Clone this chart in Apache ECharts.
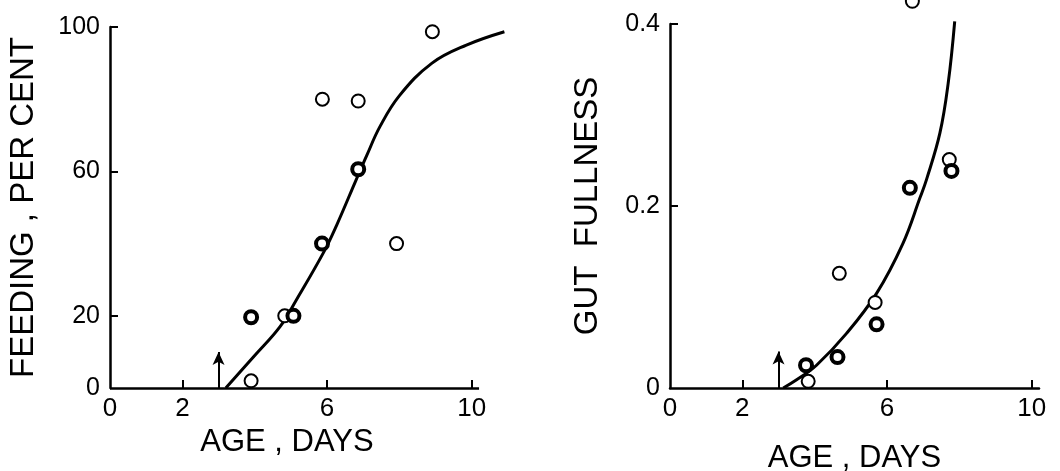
<!DOCTYPE html>
<html>
<head>
<meta charset="utf-8">
<script src="https://cdn.jsdelivr.net/npm/echarts@6/dist/echarts.min.js"></script>
<style>
  html, body { margin: 0; padding: 0; background: #fff; }
  #chart { width: 1060px; height: 471px; }
</style>
</head>
<body>
<div id="chart"></div>
<script>
// left panel: feeding, per cent
var feedOpen = [[3.9, 2], [4.83, 20], [5.87, 80], [6.86, 79.5], [7.92, 40], [8.91, 98.7]];
var feedFilled = [[3.9, 19.6], [5.07, 20], [5.86, 40], [6.86, 60.6]];
var feedCurve = [[3.2, 0], [4.0, 9], [4.7, 17], [5.15, 24.4], [5.9, 37.5], [6.26, 45], [6.8, 57.6],
    [7.1, 64.5], [7.46, 72.4], [8.0, 81], [8.9, 90], [9.85, 95], [10.9, 98.7]];
var feedArrow = [[3, 0], [3, 10]];

// right panel: gut fullness
var gutOpen = [[3.82, 0.0074], [4.68, 0.126], [5.67, 0.094], [6.7, 0.425], [7.72, 0.251]];
var gutFilled = [[3.76, 0.025], [4.63, 0.034], [5.71, 0.070], [6.63, 0.22], [7.78, 0.2385]];
var gutCurve = [[3.13, 0], [3.5, 0.009], [4.05, 0.025], [4.88, 0.06], [5.71, 0.104], [6.44, 0.159],
    [6.91, 0.209], [7.09, 0.229], [7.46, 0.28], [7.69, 0.335], [7.87, 0.403]];
var gutArrow = [[3, 0], [3, 0.04]];

var xTicks = [2, 6, 10];
var xLabels = [0, 2, 6, 10];
var feedTicks = [20, 60, 100];
var feedLabels = [0, 20, 60, 100];
var gutTicks = [0.2, 0.4];
var gutLabels = [0, 0.2, 0.4];
var xAxisEnd = 10.2;   // where the drawn x axis stops

var font = 'Liberation Sans';
var ink = '#000';

// the left curve runs past the end of the x axis, so that grid goes to 11
// and the axis line itself is drawn as a mark line up to xAxisEnd
function xAxisOf(idx, gap, max, showLine) {
    return {
        type: 'value', gridIndex: idx, min: 0, max: max,
        name: 'AGE , DAYS', nameLocation: 'middle', nameGap: gap,
        nameTextStyle: {color: ink, fontSize: 31, fontFamily: font},
        axisLine: {show: showLine, lineStyle: {color: ink, width: 2.5}},
        axisTick: {show: true, inside: true, length: 8, customValues: xTicks, lineStyle: {color: ink, width: 2}},
        axisLabel: {show: true, customValues: xLabels, color: ink, fontSize: 26, fontFamily: font, margin: 8},
        splitLine: {show: false}
    };
}

function yAxisOf(idx, max, name, gap, ticks, labels) {
    return {
        type: 'value', gridIndex: idx, min: 0, max: max,
        name: name, nameLocation: 'middle', nameGap: gap,
        nameTextStyle: {color: ink, fontSize: 33, fontFamily: font},
        axisLine: {show: true, lineStyle: {color: ink, width: 2.5}},
        axisTick: {show: true, inside: true, length: 8, customValues: ticks, lineStyle: {color: ink, width: 2}},
        axisLabel: {customValues: labels, color: ink, fontSize: 25, fontFamily: font, margin: 10},
        splitLine: {show: false}
    };
}

function arrowLine(xi, pts) {
    return {
        type: 'line', xAxisIndex: xi, yAxisIndex: xi, data: [], silent: true,
        markLine: {
            silent: true, symbol: ['none', 'arrow'], symbolSize: [9, 13],
            label: {show: false},
            lineStyle: {color: ink, width: 2, type: 'solid'},
            data: [[{coord: pts[0]}, {coord: pts[1]}]]
        }
    };
}

function baseLine(xi) {
    return {
        type: 'line', xAxisIndex: xi, yAxisIndex: xi, data: [], silent: true,
        markLine: {
            silent: true, symbol: 'none', label: {show: false},
            lineStyle: {color: ink, width: 2.5, type: 'solid'},
            data: [[{coord: [0, 0]}, {coord: [xAxisEnd, 0]}]]
        }
    };
}

function curve(xi, pts) {
    return {
        type: 'line', xAxisIndex: xi, yAxisIndex: xi, data: pts, smooth: 0.4,
        showSymbol: false, clip: false, silent: true,
        lineStyle: {color: ink, width: 3}, z: 2
    };
}

function dots(xi, pts, size, border) {
    return {
        type: 'scatter', xAxisIndex: xi, yAxisIndex: xi, data: pts, symbol: 'circle',
        symbolSize: size, clip: false, silent: true, z: 5,
        itemStyle: {color: '#fff', borderColor: ink, borderWidth: border, opacity: 1}
    };
}

var leftX = xAxisOf(0, 36, 11, false);
leftX.nameTextStyle.padding = [0, 44, 0, 0];   // centre the name under the drawn axis
var rightX = xAxisOf(1, 55, xAxisEnd, true);

var chart = echarts.init(document.getElementById('chart'));
chart.setOption({
    backgroundColor: '#fff',
    animation: false,
    grid: [
        {left: 110, top: 27, width: 398, height: 361, outerBoundsMode: 'none', containLabel: false},
        {left: 670, top: 24, width: 369, height: 364, outerBoundsMode: 'none', containLabel: false}
    ],
    xAxis: [leftX, rightX],
    yAxis: [
        yAxisOf(0, 100, 'FEEDING , PER CENT', 70, feedTicks, feedLabels),
        yAxisOf(1, 0.4, 'GUT  FULLNESS', 66, gutTicks, gutLabels)
    ],
    series: [
        baseLine(0),
        curve(0, feedCurve),
        arrowLine(0, feedArrow),
        dots(0, feedOpen, 13, 2),
        dots(0, feedFilled, 12, 4),
        curve(1, gutCurve),
        arrowLine(1, gutArrow),
        dots(1, gutOpen, 13, 2),
        dots(1, gutFilled, 12, 4)
    ]
});
</script>
</body>
</html>
